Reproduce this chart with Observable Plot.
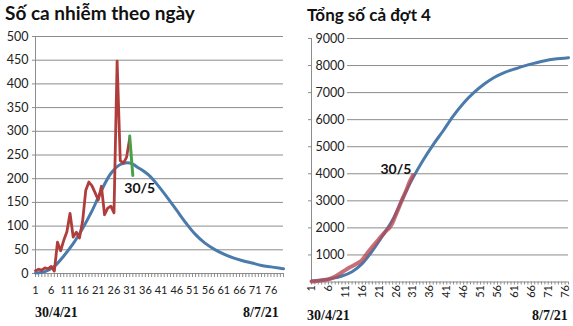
<!DOCTYPE html>
<html><head><meta charset="utf-8">
<script src="https://cdn.jsdelivr.net/npm/d3@7"></script>
<script src="https://cdn.jsdelivr.net/npm/@observablehq/plot@0.6"></script>
<style>
body{margin:0;background:#fff;}
#wrap{position:relative;width:573px;height:326px;overflow:hidden;background:#fff;}
.title{position:absolute;font-family:Lato,sans-serif;font-weight:bold;color:#111;white-space:nowrap;line-height:1;}
.date{position:absolute;font-family:"Liberation Serif",serif;font-weight:bold;font-size:14px;line-height:14px;color:#111;white-space:nowrap;}
.chart{position:absolute;}
</style></head><body>
<div id="wrap">
  <div class="title" style="left:5px;top:3px;font-size:19px">Số ca nhiễm theo ngày</div>
  <div class="title" style="left:307px;top:6px;font-size:17px">Tổng số cả đợt 4</div>
  <div id="left" class="chart" style="left:0;top:28px"></div>
  <div id="right" class="chart" style="left:290px;top:28px"></div>
  <div class="date" style="left:35px;top:306px">30/4/21</div>
  <div class="date" style="left:243px;top:306px">8/7/21</div>
  <div class="date" style="left:307px;top:309px">30/4/21</div>
  <div class="date" style="left:532px;top:309px">8/7/21</div>
</div>
<script>
// ---- tick labels / axes ----
const leftYTicks = [0, 50, 100, 150, 200, 250, 300, 350, 400, 450, 500];
const rightYTicks = [1000, 2000, 3000, 4000, 5000, 6000, 7000, 8000, 9000];
const xTickLabels = [1, 6, 11, 16, 21, 26, 31, 36, 41, 46, 51, 56, 61, 66, 71, 76];
const leftDayCount = 80;
const rightDayCount = 77;

// ---- left chart: daily cases ----
const redDailyDays = [1,2,3,4,5,6,7,8,9,10,11,12,13,14,15,16,17,18,19,20,21,22,23,24,25,26,27,28,29,30,31];
const redDailyValues = [6,9,7,12,10,15,5,66,48,70,88,127,77,87,75,110,175,193,185,170,155,184,124,138,142,128,448,238,233,245,285];
const greenDays = [31, 32];
const greenValues = [290, 207];
const blueDailyDays = [1,4,7,10,13,16,19,22,25,28,31,34,37,40,43,46,49,52,55,58,61,64,67,70,73,76,79,80];
const blueDailyValues = [1,4,15,37,63,95,132,175,211,230,233,222,208,186,160,133,106,82,64,51,41,33,27,22,17,14,11,10];

// ---- right chart: cumulative ----
const redCumDays = [1,2,3,4,5,6,7,8,9,10,11,12,13,14,15,16,17,18,19,20,21,22,23,24,25,26,27,28,29,30,31];
const redCumValues = [20,30,45,60,80,100,140,200,280,360,440,520,580,650,720,820,980,1150,1300,1450,1600,1740,1880,2000,2200,2500,2800,3100,3380,3700,3950];
const blueCumDays = [1,4,7,10,13,16,19,22,25,28,31,34,37,40,43,46,49,52,55,58,61,64,67,70,73,77];
const blueCumValues = [40,70,130,220,380,680,1150,1700,2300,3100,3850,4500,5080,5600,6150,6620,7000,7310,7560,7740,7870,7990,8090,8180,8240,8290];

// ---- annotations ----
const annotLeft = [{day: 29.3, value: 179, label: "30/5"}];
const annotRight = [{day: 21.4, value: 4160, label: "30/5"}];

const zip = (xs, ys) => xs.map((d, i) => ({day: d, value: ys[i]}));
const BLUE = "#4a7bab", RED = "#b03d3c", GREEN = "#45a24a", GRID = "#8c8c8c";
const FONT = "Lato, 'Open Sans', sans-serif";

const leftPlot = Plot.plot({
  width: 290, height: 272,
  marginTop: 8, marginBottom: 27, marginLeft: 35, marginRight: 7,
  x: {domain: [1, leftDayCount], label: null},
  y: {domain: [0, 500], label: null},
  style: {fontFamily: FONT, color: "#222", background: "transparent", overflow: "visible"},
  marks: [
    Plot.ruleY(leftYTicks.filter(d => d > 0), {stroke: GRID, strokeWidth: 1}),
    Plot.ruleX([1], {stroke: GRID}),
    Plot.ruleY([0], {stroke: GRID}),
    Plot.axisY({ticks: leftYTicks, tickSize: 3, tickPadding: 4, fontSize: 12.5, stroke: GRID, tickFormat: "d"}),
    Plot.axisX({ticks: d3.range(1, leftDayCount + 1), tickSize: 4, tickFormat: () => "", stroke: GRID}),
    Plot.axisX({ticks: xTickLabels, tickSize: 0, tickPadding: 13, fontSize: 11, tickFormat: "d"}),
    Plot.line(zip(blueDailyDays, blueDailyValues), {x: "day", y: "value", stroke: BLUE, strokeWidth: 3, curve: "catmull-rom"}),
    Plot.line(zip(redDailyDays, redDailyValues), {x: "day", y: "value", stroke: RED, strokeWidth: 2.8, strokeLinejoin: "round"}),
    Plot.line(zip(greenDays, greenValues), {x: "day", y: "value", stroke: GREEN, strokeWidth: 3}),
    Plot.text(annotLeft, {x: "day", y: "value", text: "label", textAnchor: "start", fontWeight: "bold", fontSize: 14, fill: "#111"})
  ]
});
document.getElementById("left").appendChild(leftPlot);

const rightPlot = Plot.plot({
  width: 283, height: 282,
  marginTop: 10, marginBottom: 28.5, marginLeft: 21, marginRight: 5,
  x: {domain: [1, rightDayCount], label: null},
  y: {domain: [0, 9000], label: null},
  style: {fontFamily: FONT, color: "#222", background: "transparent", overflow: "visible"},
  marks: [
    Plot.ruleY(rightYTicks, {stroke: GRID, strokeWidth: 1, insetLeft: 36}),
    Plot.ruleX([1], {stroke: GRID}),
    Plot.ruleY([0], {stroke: GRID}),
    Plot.axisY({ticks: rightYTicks, tickSize: 3, tickFormat: () => "", stroke: GRID}),
    Plot.axisY({ticks: rightYTicks, tickSize: 0, tickPadding: 0, dx: 33, fontSize: 12.5, fill: "#222", tickFormat: "d"}),
    Plot.axisX({ticks: d3.range(1, rightDayCount + 1), tickSize: 3, tickFormat: () => "", stroke: GRID}),
    Plot.axisX({ticks: xTickLabels, tickSize: 0, tickPadding: 3, tickRotate: -90, fontSize: 11, tickFormat: "d"}),
    Plot.line(zip(blueCumDays, blueCumValues), {x: "day", y: "value", stroke: BLUE, strokeWidth: 3, curve: "catmull-rom"}),
    Plot.line(zip(redCumDays, redCumValues), {x: "day", y: "value", stroke: "#b84b55", strokeOpacity: 0.8, strokeWidth: 4, curve: "catmull-rom"}),
    Plot.text(annotRight, {x: "day", y: "value", text: "label", textAnchor: "start", fontWeight: "bold", fontSize: 14, fill: "#111"})
  ]
});
document.getElementById("right").appendChild(rightPlot);
</script>
</body></html>
